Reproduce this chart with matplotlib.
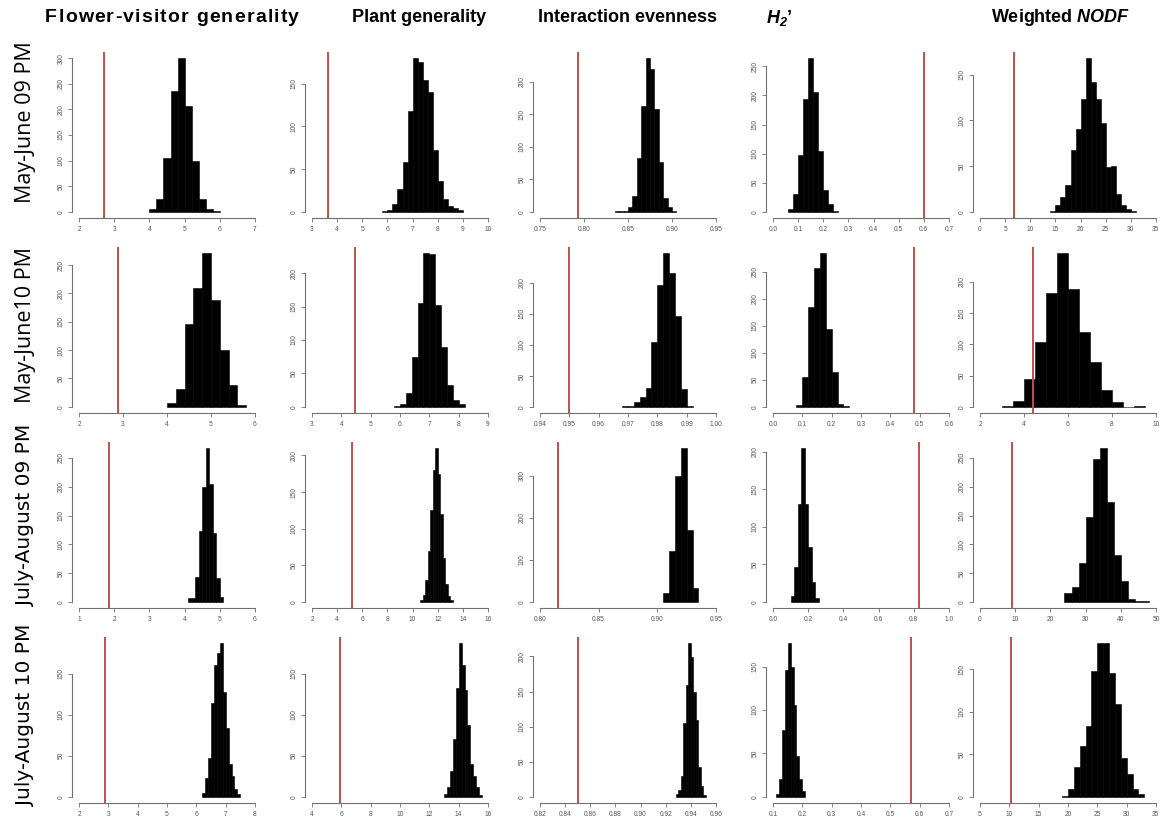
import numpy as np
import matplotlib
matplotlib.use("Agg")
import matplotlib.pyplot as plt

W, H = 1161, 821

col_titles = ["Flower-visitor generality", "Plant generality", "Interaction evenness",
              r"$\mathbfit{H}_{\mathbfit{2}}$’", r"Weighted $\mathbfit{NODF}$"]
row_labels = ["May-June 09 PM", "May-June10 PM", "July-August 09 PM", "July-August 10 PM"]

# ---------------- Row 1: May-June 09 PM ----------------
r1_fvg_counts = [5, 25, 105, 235, 300, 206, 100, 25, 5, 1]
r1_fvg_bin = (4.0, 0.2)
r1_fvg_obs = 2.71
r1_fvg_xt = ["2", "3", "4", "5", "6", "7"]

r1_pg_counts = [1, 2, 9, 27, 58, 118, 180, 175, 154, 140, 73, 36, 15, 7, 4, 2]
r1_pg_bin = (5.8, 0.2)
r1_pg_obs = 3.65
r1_pg_xt = ["3", "4", "5", "6", "7", "8", "9", "10"]

r1_ie_counts = [1, 1, 1, 8, 25, 83, 163, 236, 220, 158, 76, 22, 8, 2]
r1_ie_bin = (0.835, 0.005)
r1_ie_obs = 0.793
r1_ie_xt = ["0.75", "0.80", "0.85", "0.90", "0.95"]

r1_h2_counts = [5, 30, 98, 193, 264, 205, 104, 38, 13, 1]
r1_h2_bin = (0.06, 0.02)
r1_h2_obs = 0.601
r1_h2_xt = ["0.0", "0.1", "0.2", "0.3", "0.4", "0.5", "0.6", "0.7"]

r1_nodf_counts = [1, 8, 16, 29, 68, 91, 123, 168, 142, 123, 97, 49, 50, 19, 7, 3, 1]
r1_nodf_bin = (14.0, 1.0)
r1_nodf_obs = 6.7
r1_nodf_xt = ["0", "5", "10", "15", "20", "25", "30", "35"]

# ---------------- Row 2: May-June 10 PM ----------------
r2_fvg_counts = [6, 32, 146, 209, 271, 188, 100, 39, 3]
r2_fvg_bin = (4.0, 0.2)
r2_fvg_obs = 2.88
r2_fvg_xt = ["2", "3", "4", "5", "6"]

r2_pg_counts = [1, 5, 21, 74, 155, 230, 228, 153, 90, 32, 10, 5]
r2_pg_bin = (5.8, 0.2)
r2_pg_obs = 4.48
r2_pg_xt = ["3", "4", "5", "6", "7", "8", "9"]

r2_ie_counts = [1, 2, 8, 16, 31, 104, 196, 248, 216, 146, 29, 2]
r2_ie_bin = (0.968, 0.002)
r2_ie_obs = 0.950
r2_ie_xt = ["0.94", "0.95", "0.96", "0.97", "0.98", "0.99", "1.00"]

r2_h2_counts = [4, 56, 185, 257, 284, 143, 65, 5, 2]
r2_h2_bin = (0.08, 0.02)
r2_h2_obs = 0.48
r2_h2_xt = ["0.0", "0.1", "0.2", "0.3", "0.4", "0.5", "0.6"]

r2_nodf_counts = [2, 10, 44, 104, 182, 246, 189, 119, 72, 27, 8, 0, 1]
r2_nodf_bin = (3.0, 0.5)
r2_nodf_obs = 4.41
r2_nodf_xt = ["2", "4", "6", "8", "10"]

# ---------------- Row 3: July-August 09 PM ----------------
r3_fvg_counts = [6, 6, 43, 123, 200, 267, 204, 120, 41, 9]
r3_fvg_bin = (4.1, 0.1)
r3_fvg_obs = 1.85
r3_fvg_xt = ["1", "2", "3", "4", "5", "6"]

r3_pg_counts = [3, 10, 30, 70, 125, 180, 210, 175, 120, 60, 25, 8, 2]
r3_pg_bin = (10.6, 0.2)
r3_pg_obs = 5.2
r3_pg_xt = ["2", "4", "6", "8", "10", "12", "14", "16"]

r3_ie_counts = [22, 120, 300, 365, 170, 32]
r3_ie_bin = (0.905, 0.005)
r3_ie_obs = 0.815
r3_ie_xt = ["0.80", "0.85", "0.90", "0.95"]

r3_h2_counts = [8, 47, 130, 205, 130, 73, 27, 5]
r3_h2_bin = (0.10, 0.02)
r3_h2_obs = 0.83
r3_h2_xt = ["0.0", "0.2", "0.4", "0.6", "0.8", "1.0"]

r3_nodf_counts = [16, 26, 68, 148, 249, 267, 173, 82, 36, 5, 2, 1]
r3_nodf_bin = (24.0, 2.0)
r3_nodf_obs = 9.0
r3_nodf_xt = ["0", "10", "20", "30", "40", "50"]

# ---------------- Row 4: July-August 10 PM ----------------
r4_fvg_counts = [5, 23, 47, 114, 160, 175, 187, 128, 84, 40, 25, 9, 3]
r4_fvg_bin = (6.2, 0.1)
r4_fvg_obs = 2.9
r4_fvg_xt = ["2", "3", "4", "5", "6", "7", "8"]

r4_pg_counts = [4, 12, 32, 70, 133, 187, 160, 130, 88, 40, 25, 12, 2]
r4_pg_bin = (13.0, 0.2)
r4_pg_obs = 5.9
r4_pg_xt = ["4", "6", "8", "10", "12", "14", "16"]

r4_ie_counts = [4, 10, 30, 105, 159, 219, 199, 150, 109, 43, 15, 3]
r4_ie_bin = (0.928, 0.002)
r4_ie_obs = 0.850
r4_ie_xt = ["0.82", "0.84", "0.86", "0.88", "0.90", "0.92", "0.94", "0.96"]

r4_h2_counts = [3, 20, 77, 146, 177, 150, 106, 47, 20, 7]
r4_h2_bin = (0.11, 0.01)
r4_h2_obs = 0.57
r4_h2_xt = ["0.1", "0.2", "0.3", "0.4", "0.5", "0.6", "0.7"]

r4_nodf_counts = [1, 9, 35, 60, 84, 148, 181, 181, 146, 109, 46, 27, 9, 3]
r4_nodf_bin = (19.0, 1.0)
r4_nodf_obs = 10.2
r4_nodf_xt = ["5", "10", "15", "20", "25", "30", "35"]

panels = [
    [(r1_fvg_counts, r1_fvg_bin, r1_fvg_obs, r1_fvg_xt),
     (r1_pg_counts, r1_pg_bin, r1_pg_obs, r1_pg_xt),
     (r1_ie_counts, r1_ie_bin, r1_ie_obs, r1_ie_xt),
     (r1_h2_counts, r1_h2_bin, r1_h2_obs, r1_h2_xt),
     (r1_nodf_counts, r1_nodf_bin, r1_nodf_obs, r1_nodf_xt)],
    [(r2_fvg_counts, r2_fvg_bin, r2_fvg_obs, r2_fvg_xt),
     (r2_pg_counts, r2_pg_bin, r2_pg_obs, r2_pg_xt),
     (r2_ie_counts, r2_ie_bin, r2_ie_obs, r2_ie_xt),
     (r2_h2_counts, r2_h2_bin, r2_h2_obs, r2_h2_xt),
     (r2_nodf_counts, r2_nodf_bin, r2_nodf_obs, r2_nodf_xt)],
    [(r3_fvg_counts, r3_fvg_bin, r3_fvg_obs, r3_fvg_xt),
     (r3_pg_counts, r3_pg_bin, r3_pg_obs, r3_pg_xt),
     (r3_ie_counts, r3_ie_bin, r3_ie_obs, r3_ie_xt),
     (r3_h2_counts, r3_h2_bin, r3_h2_obs, r3_h2_xt),
     (r3_nodf_counts, r3_nodf_bin, r3_nodf_obs, r3_nodf_xt)],
    [(r4_fvg_counts, r4_fvg_bin, r4_fvg_obs, r4_fvg_xt),
     (r4_pg_counts, r4_pg_bin, r4_pg_obs, r4_pg_xt),
     (r4_ie_counts, r4_ie_bin, r4_ie_obs, r4_ie_xt),
     (r4_h2_counts, r4_h2_bin, r4_h2_obs, r4_h2_xt),
     (r4_nodf_counts, r4_nodf_bin, r4_nodf_obs, r4_nodf_xt)],
]

# ---------------- layout (pixels) ----------------
col_left = [72, 305, 533, 766, 973]
col_width = 190
row_top = [52, 247, 442, 637]
row_height = 166
title_x = [172, 419, 627, 779, 1061]
title_size = [14, 13, 13, 13, 13]
title_spacing = [1.2, 0, 0, 0, 0]   # extra letter spacing (px)
title_y = 18
label_x = 25
label_y = [122, 325, 515, 715]

plt.rcParams["font.family"] = ["Liberation Sans", "DejaVu Sans"]
plt.rcParams["mathtext.fontset"] = "custom"
plt.rcParams["mathtext.bfit"] = "Liberation Sans:italic:bold"
plt.rcParams["mathtext.bf"] = "Liberation Sans:bold"
plt.rcParams["mathtext.rm"] = "Liberation Sans"

fig = plt.figure(figsize=(W / 100, H / 100), dpi=100)
fig.patch.set_facecolor("white")
renderer = fig.canvas.get_renderer()

AX_GREY = "#707070"
RED = "#c0504d"

for r in range(4):
    for c in range(5):
        counts, (b0, bw), obs, xt = panels[r][c]
        counts = np.asarray(counts, dtype=float)
        edges = b0 + bw * np.arange(len(counts) + 1)
        left = col_left[c]
        top = row_top[r]
        ax = fig.add_axes([left / W, 1 - (top + row_height) / H, col_width / W, row_height / H])
        ax.bar(edges[:-1], counts, width=bw, align="edge", color="black",
               edgecolor="black", linewidth=0.4)
        ax.axvline(obs, color=RED, lw=1.4)
        xticks = [float(s) for s in xt]
        a, b = xticks[0], xticks[-1]
        pad = 0.04 * (b - a)
        ax.set_xlim(a - pad, b + pad)
        ymax = counts.max()
        ax.set_ylim(-0.04 * ymax, 1.04 * ymax)
        step = 100 if ymax > 320 else 50
        yticks = np.arange(0, ymax + 1e-9, step)
        ax.set_xticks(xticks)
        ax.set_xticklabels(xt)
        ax.set_yticks(yticks)
        ax.set_yticklabels([f"{int(v)}" for v in yticks], rotation=90, va="center")
        for s in ["top", "right"]:
            ax.spines[s].set_visible(False)
        ax.spines["left"].set_bounds(yticks[0], yticks[-1])
        ax.spines["bottom"].set_bounds(a, b)
        for s in ["left", "bottom"]:
            ax.spines[s].set_color(AX_GREY)
            ax.spines[s].set_linewidth(0.8)
        ax.tick_params(direction="out", length=3, width=0.6, color=AX_GREY,
                       labelsize=4.8, labelcolor="#555555", pad=2.5)
        ax.patch.set_alpha(0)


def text_width(s, **kw):
    t = fig.text(0, 0, s + "|", **kw)
    w1 = t.get_window_extent(renderer).width
    t.remove()
    t = fig.text(0, 0, "|", **kw)
    w2 = t.get_window_extent(renderer).width
    t.remove()
    return w1 - w2


for c in range(5):
    s = col_titles[c]
    sp = title_spacing[c]
    kw = dict(fontsize=title_size[c], fontweight="bold", family="Liberation Sans")
    if sp == 0:
        fig.text(title_x[c] / W, 1 - title_y / H, s, ha="center", va="center", **kw)
    else:
        total = text_width(s, **kw) + sp * (len(s) - 1)
        x0 = title_x[c] - total / 2
        for i, ch in enumerate(s):
            if ch == " ":
                continue
            xi = x0 + text_width(s[:i], **kw) + sp * i
            fig.text(xi / W, 1 - title_y / H, ch, ha="left", va="center", **kw)

for r in range(4):
    fam = "Open Sans" if r < 2 else "DejaVu Sans"
    fs = 15.5 if r < 2 else 14.5
    fig.text(label_x / W, 1 - label_y[r] / H, row_labels[r], ha="center", va="center",
             rotation=90, fontsize=fs, family=fam)

fig.savefig("out.png", dpi=100)
